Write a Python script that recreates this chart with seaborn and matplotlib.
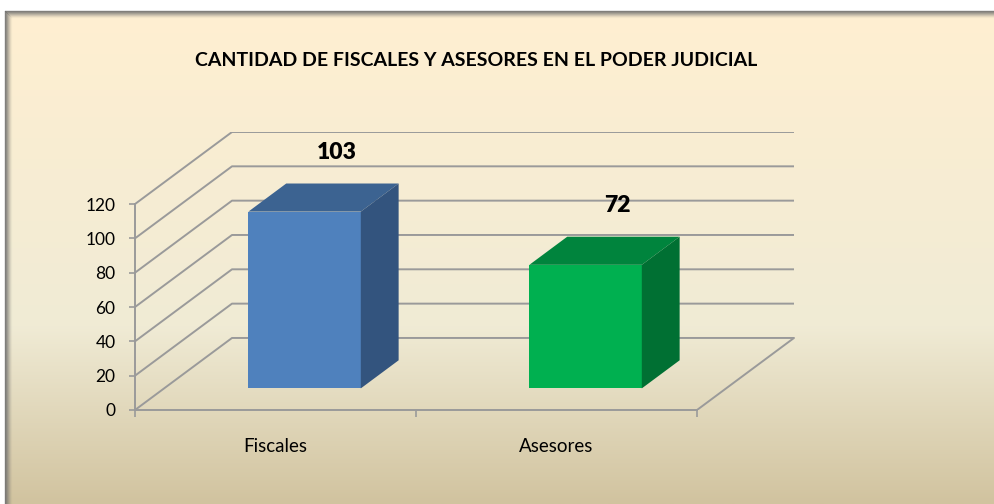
import numpy as np
import matplotlib
matplotlib.use('Agg')
import matplotlib.pyplot as plt
import seaborn as sns
from matplotlib.patches import Polygon
from matplotlib.lines import Line2D
from matplotlib.colors import LinearSegmentedColormap

# ---- data ----
categories = ['Fiscales', 'Asesores']
values = [103, 72]
y_ticks = [0, 20, 40, 60, 80, 100, 120]
title = 'CANTIDAD DE FISCALES Y ASESORES EN EL PODER JUDICIAL'

# ---- styles ----
front_colors = ['#4F81BD', '#00B050']
top_colors = ['#3C6391', '#00843D']
side_colors = ['#33547E', '#007033']
grid_color = '#9a9a9a'

sns.set_style('white')
plt.rcParams['font.family'] = ['Lato', 'DejaVu Sans']

W, H = 995, 504
fig = plt.figure(figsize=(W / 100, H / 100), dpi=100)
fig.patch.set_facecolor('white')

# background (parchment gradient) with border/shadow
bg = fig.add_axes([5 / W, 0, 1 - 5 / W, 1 - 11 / H], zorder=0)
cmap = LinearSegmentedColormap.from_list(
    'parch', [(0, '#FFEFD1'), (0.64, '#F0EBD5'), (1, '#D1C39F')])
grad = np.linspace(0, 1, 256).reshape(-1, 1)
bg.imshow(grad, aspect='auto', cmap=cmap, extent=[0, 1, 0, 1], origin='upper')
bg.set_axis_off()
for i in range(7):
    a = 0.85 * (1 - i / 7) ** 1.5
    yy = 1 - (11 + i) / H
    xx = (5 + i) / W
    fig.add_artist(Line2D([xx, 1], [yy, yy], transform=fig.transFigure,
                          color='#6f6f6f', alpha=a, lw=1, zorder=1))
    fig.add_artist(Line2D([xx, xx], [0, yy], transform=fig.transFigure,
                          color='#6f6f6f', alpha=a, lw=1, zorder=1))

# main axes (front plane)
ax = fig.add_axes([135 / W, (H - 410) / H, (797 - 135) / W, (410 - 132) / H], zorder=2)
ax.set_facecolor('none')

n = len(categories)
x_lo, x_hi_front = -0.5, n - 0.5
px_per_cat = (697 - 135) / n
DX = 97 / px_per_cat                  # depth shift in category units
DY = 71 / ((410 - 207) / 120)         # depth shift in value units

sns.barplot(x=categories, y=values, hue=categories, palette=front_colors,
            saturation=1, width=0.4, legend=False, ax=ax, zorder=3)

ax.set_xlim(x_lo, x_lo + (797 - 135) / px_per_cat)
ax.set_ylim(0, y_ticks[-1] + DY)

# side wall + back wall gridlines
for v in y_ticks:
    ax.plot([x_lo, x_lo + DX, x_hi_front + DX], [v, v + DY, v + DY],
            color=grid_color, lw=1.4, zorder=1, solid_capstyle='butt')
ax.plot([x_hi_front, x_hi_front + DX], [0, DY], color=grid_color, lw=1.4, zorder=1)

Z0, ZD = 0.3, 0.39
bars = sorted([p for p in ax.patches], key=lambda p: p.get_x())
for i, p in enumerate(bars):
    x0, w, h = p.get_x(), p.get_width(), p.get_height()
    sx, sy = Z0 * DX, Z0 * DY
    p.set_x(x0 + sx)
    p.set_y(sy)
    p.set_edgecolor('none')
    p.set_zorder(3)
    fx0, fx1, fy0, fy1 = x0 + sx, x0 + sx + w, sy, sy + h
    ddx, ddy = ZD * DX, ZD * DY
    ax.add_patch(Polygon([(fx0, fy1), (fx1, fy1), (fx1 + ddx, fy1 + ddy), (fx0 + ddx, fy1 + ddy)],
                         closed=True, facecolor=top_colors[i], edgecolor='none', zorder=3))
    ax.add_patch(Polygon([(fx1, fy0), (fx1 + ddx, fy0 + ddy), (fx1 + ddx, fy1 + ddy), (fx1, fy1)],
                         closed=True, facecolor=side_colors[i], edgecolor='none', zorder=3))
    ax.annotate(f'{h:g}', xy=(x0 + w / 2 + (Z0 + ZD) * DX, fy1 + ddy), xytext=(-4, 15),
                textcoords='offset points', ha='center', va='bottom',
                fontsize=16.5, fontweight='heavy', color='black', zorder=5)

# axes styling
for s in ['top', 'right']:
    ax.spines[s].set_visible(False)
ax.spines['left'].set_bounds(0, y_ticks[-1])
ax.spines['bottom'].set_bounds(x_lo, x_hi_front)
for s in ['left', 'bottom']:
    ax.spines[s].set_color(grid_color)
    ax.spines[s].set_linewidth(1.4)
    ax.spines[s].set_zorder(2)

ax.set_yticks(y_ticks)
ax.set_yticklabels([str(v) for v in y_ticks])
ax.tick_params(axis='y', left=True, length=4, width=1.2, color=grid_color,
               labelsize=12.5, pad=10, labelcolor='black')
ax.set_xticks(np.arange(-0.5, n, 1.0))
ax.set_xticklabels([''] * (n + 1))
ax.set_xticks(np.arange(n), minor=True)
ax.set_xticklabels(categories, minor=True)
ax.tick_params(axis='x', which='major', bottom=True, length=5, width=1.2, color=grid_color)
ax.tick_params(axis='x', which='minor', bottom=True, length=0, labelsize=13.5, pad=20,
               labelcolor='black')
ax.set_xlabel('')
ax.set_ylabel('')

fig.text(476 / W, 1 - 60 / H, title, ha='center', va='center',
         fontsize=14, fontweight='bold', color='black')

fig.savefig('out.png', dpi=100)
